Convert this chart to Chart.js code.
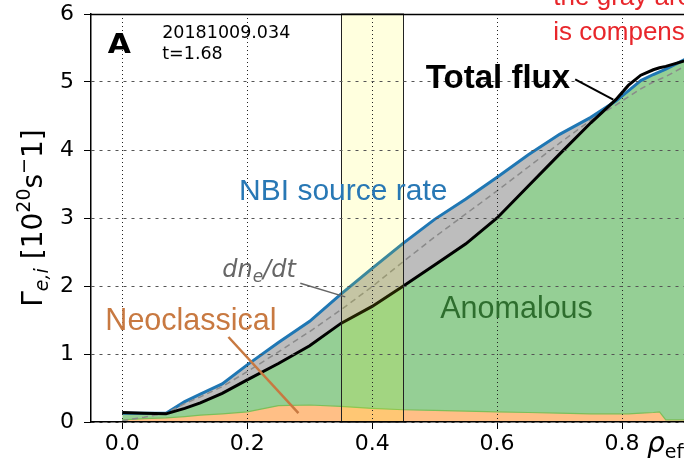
<!DOCTYPE html>
<html>
<head>
<meta charset="utf-8">
<script src="https://cdn.jsdelivr.net/npm/chart.js@4.4.1/dist/chart.umd.min.js"></script>
<style>
  html, body { margin: 0; padding: 0; background: #fff; overflow: hidden; }
  #wrap { width: 760px; height: 466px; }
</style>
</head>
<body>
<div id="wrap"><canvas id="fluxChart" width="760" height="466"></canvas></div>
<script>
// radial profile, shot 20181009.034 at t=1.68
const RHO          = [0, 0.035, 0.07, 0.1, 0.125, 0.16, 0.2, 0.25, 0.3, 0.35, 0.4, 0.45, 0.5, 0.55, 0.6, 0.65, 0.7, 0.75, 0.79, 0.81, 0.83, 0.85, 0.86, 0.87, 0.9, 0.93, 0.96];
const TOTAL_FLUX   = [0.14, 0.13, 0.12, 0.20, 0.28, 0.42, 0.62, 0.86, 1.12, 1.45, 1.70, 2.00, 2.31, 2.62, 3.00, 3.47, 3.94, 4.40, 4.74, 4.95, 5.10, 5.18, 5.21, 5.23, 5.31, 5.42, 5.52];
const NBI_SOURCE   = [0.13, 0.13, 0.13, 0.30, 0.41, 0.56, 0.84, 1.17, 1.48, 1.88, 2.26, 2.63, 2.98, 3.28, 3.60, 3.93, 4.23, 4.48, 4.72, 4.87, 5.02, 5.11, 5.15, 5.19, 5.33, 5.45, 5.55];
const DNE_DT       = [0.02, 0.07, 0.13, 0.27, 0.37, 0.52, 0.74, 1.03, 1.33, 1.65, 1.99, 2.36, 2.72, 3.06, 3.40, 3.75, 4.10, 4.44, 4.66, 4.78, 4.90, 5.00, 5.04, 5.08, 5.23, 5.35, 5.47];
const NEOCLASSICAL = [0.03, 0.05, 0.06, 0.08, 0.10, 0.12, 0.15, 0.24, 0.25, 0.23, 0.20, 0.18, 0.17, 0.16, 0.15, 0.14, 0.13, 0.12, 0.12, 0.12, 0.13, 0.14, 0.15, 0.03, 0.03, 0.03, 0.03];
const ANOMALOUS    = [0.14, 0.13, 0.12, 0.20, 0.28, 0.42, 0.62, 0.86, 1.12, 1.45, 1.70, 2.00, 2.31, 2.62, 3.00, 3.47, 3.94, 4.40, 4.72, 4.87, 5.02, 5.11, 5.15, 5.19, 5.31, 5.42, 5.52];

const X_TICKS = [0, 0.2, 0.4, 0.6, 0.8, 1.0];
const Y_TICKS = [0, 1, 2, 3, 4, 5, 6];
const BAND = [0.35, 0.45];

const MATH = 'DejaVu Sans';
const SANS = '"Liberation Sans", Arial, sans-serif';

function pts(ys) {
    return RHO.map((x, i) => ({ x, y: ys[i] }));
}

// text pieces laid out left to right, each with its own font and baseline shift
function drawRich(ctx, x, y, parts, color) {
    ctx.fillStyle = color;
    ctx.textBaseline = 'alphabetic';
    ctx.textAlign = 'left';
    let cx = x;
    for (const p of parts) {
        ctx.font = p.font;
        ctx.fillText(p.text, cx, y + (p.dy || 0));
        cx += ctx.measureText(p.text).width;
    }
}

function drawText(chart, text, xv, yv, font, color, stretch) {
    const { ctx, scales: { x, y } } = chart;
    ctx.save();
    ctx.translate(x.getPixelForValue(xv), y.getPixelForValue(yv));
    if (stretch) ctx.scale(stretch, 1);
    ctx.font = font;
    ctx.fillStyle = color;
    ctx.textAlign = 'left';
    ctx.textBaseline = 'alphabetic';
    ctx.fillText(text, 0, 0);
    ctx.restore();
}

function drawPointer(chart, x0, y0, x1, y1, color, width) {
    const { ctx, scales: { x, y } } = chart;
    ctx.beginPath();
    ctx.moveTo(x.getPixelForValue(x0), y.getPixelForValue(y0));
    ctx.lineTo(x.getPixelForValue(x1), y.getPixelForValue(y1));
    ctx.strokeStyle = color;
    ctx.lineWidth = width;
    ctx.stroke();
}

const overlays = {
    id: 'overlays',
    afterDatasetsDraw(chart) {
        const { ctx, chartArea, scales: { x } } = chart;
        const l = x.getPixelForValue(BAND[0]);
        const r = x.getPixelForValue(BAND[1]);
        ctx.save();
        ctx.fillStyle = 'rgba(255,255,0,0.13)';
        ctx.fillRect(l, chartArea.top, r - l, chartArea.bottom - chartArea.top);
        ctx.strokeStyle = '#222';
        ctx.lineWidth = 1;
        ctx.strokeRect(Math.round(l) + 0.5, chartArea.top, Math.round(r - l), chartArea.bottom - chartArea.top);
        ctx.restore();
    },
    afterDraw(chart) {
        const { ctx, chartArea } = chart;
        ctx.save();

        // top spine
        ctx.beginPath();
        ctx.moveTo(chartArea.left, chartArea.top + 0.5);
        ctx.lineTo(chartArea.right, chartArea.top + 0.5);
        ctx.strokeStyle = '#000';
        ctx.lineWidth = 1.5;
        ctx.stroke();

        drawText(chart, 'A', -0.023, 5.43, `bold 26px ${MATH}`, '#000', 1.15);
        drawText(chart, '20181009.034', 0.064, 5.65, `17.5px ${MATH}`, '#000');
        drawText(chart, 't=1.68', 0.064, 5.34, `17.5px ${MATH}`, '#000');

        drawText(chart, 'NBI source rate', 0.187, 3.26, `30px ${SANS}`, '#2878b5');
        drawText(chart, 'Total flux', 0.486, 4.91, `bold 33px ${SANS}`, '#000');
        drawPointer(chart, 0.725, 5.04, 0.786, 4.74, '#000', 2);
        drawText(chart, 'Anomalous', 0.509, 1.53, `30.5px ${SANS}`, '#2e6e2e');
        drawText(chart, 'Neoclassical', -0.027, 1.35, `30.5px ${SANS}`, '#c87941');
        drawPointer(chart, 0.17, 1.25, 0.282, 0.13, '#c87941', 2.5);

        const { x, y } = chart.scales;
        drawRich(ctx, x.getPixelForValue(0.16), y.getPixelForValue(2.13), [
            { text: 'dn', font: `italic 24px ${MATH}` },
            { text: 'e', font: `italic 17px ${MATH}`, dy: 5 },
            { text: '/dt', font: `italic 24px ${MATH}` }
        ], '#666');
        drawPointer(chart, 0.285, 2.04, 0.357, 1.84, '#666', 1.5);

        drawText(chart, 'the gray area', 0.69, 6.13, `26px ${SANS}`, '#e8262b');
        drawText(chart, 'is compensated', 0.69, 5.62, `26px ${SANS}`, '#e8262b');

        // x axis title
        drawRich(ctx, x.getPixelForValue(0.84), chartArea.bottom + 30, [
            { text: 'ρ', font: `italic 28px ${MATH}` },
            { text: 'eff', font: `19px ${MATH}`, dy: 6 }
        ], '#000');

        // y axis title, rotated
        ctx.translate(chartArea.left - 49, (chartArea.top + chartArea.bottom) / 2);
        ctx.rotate(-Math.PI / 2);
        const yParts = [
            { text: 'Γ', font: `28px ${MATH}` },
            { text: 'e,i', font: `italic 19px ${MATH}`, dy: 6 },
            { text: ' [10', font: `28px ${MATH}` },
            { text: '20', font: `19px ${MATH}`, dy: -12 },
            { text: 's', font: `28px ${MATH}` },
            { text: '−', font: `19px ${MATH}`, dy: -12 },
            { text: '1]', font: `28px ${MATH}` }
        ];
        let total = 0;
        for (const p of yParts) {
            ctx.font = p.font;
            total += ctx.measureText(p.text).width;
        }
        drawRich(ctx, -total / 2, 0, yParts, '#000');

        ctx.restore();
    }
};

function createChart() {
    const canvas = document.getElementById('fluxChart');
    return new Chart(canvas, {
        type: 'line',
        data: {
            datasets: [
                {
                    label: 'Total flux',
                    data: pts(TOTAL_FLUX),
                    borderColor: '#000',
                    borderWidth: 3,
                    pointRadius: 0,
                    fill: false,
                    order: 0
                },
                {
                    label: 'dne/dt',
                    data: pts(DNE_DT),
                    borderColor: '#8a8a8a',
                    borderWidth: 1.5,
                    borderDash: [6, 4],
                    pointRadius: 0,
                    fill: false,
                    order: 1
                },
                {
                    label: 'NBI source rate',
                    data: pts(NBI_SOURCE),
                    borderColor: '#1f77b4',
                    borderWidth: 3,
                    pointRadius: 0,
                    fill: { target: 0, above: '#bdbdbd', below: 'rgba(0,0,0,0)' },
                    order: 2
                },
                {
                    label: 'Neoclassical',
                    data: pts(NEOCLASSICAL),
                    borderColor: '#7cbf5a',
                    borderWidth: 1.2,
                    backgroundColor: '#ffbf86',
                    pointRadius: 0,
                    fill: 'origin',
                    order: 3
                },
                {
                    label: 'Anomalous',
                    data: pts(ANOMALOUS),
                    borderWidth: 0,
                    backgroundColor: '#95cf95',
                    pointRadius: 0,
                    fill: 'origin',
                    order: 4
                }
            ]
        },
        options: {
            responsive: false,
            animation: false,
            layout: { padding: { top: 14, right: 13, left: 0, bottom: 0 } },
            plugins: {
                legend: { display: false },
                tooltip: { enabled: false }
            },
            scales: {
                x: {
                    type: 'linear',
                    min: -0.05,
                    max: 1.0,
                    afterBuildTicks: axis => { axis.ticks = X_TICKS.map(v => ({ value: v })); },
                    afterFit: axis => {
                        axis.height = 44;
                        axis.paddingLeft = 0;
                        axis.paddingRight = 0;
                    },
                    ticks: {
                        color: '#000',
                        font: { family: MATH, size: 22 },
                        padding: 2,
                        maxRotation: 0,
                        callback: v => v.toFixed(1)
                    },
                    grid: {
                        color: '#222',
                        lineWidth: 1,
                        tickColor: '#000',
                        tickLength: 7,
                        z: 1
                    },
                    border: { color: '#000', width: 1.5, dash: [1, 3], z: 2 }
                },
                y: {
                    min: 0,
                    max: 6,
                    afterBuildTicks: axis => { axis.ticks = Y_TICKS.map(v => ({ value: v })); },
                    afterFit: axis => {
                        axis.width = 91;
                        axis.paddingTop = 0;
                        axis.paddingBottom = 0;
                    },
                    ticks: {
                        color: '#000',
                        font: { family: MATH, size: 22 },
                        padding: 10
                    },
                    grid: {
                        color: '#555',
                        lineWidth: 1,
                        tickColor: '#000',
                        tickLength: 7,
                        z: 1
                    },
                    border: { color: '#000', width: 1.5, dash: [3, 5], z: 2 }
                }
            }
        },
        plugins: [overlays]
    });
}

createChart();
</script>
</body>
</html>
